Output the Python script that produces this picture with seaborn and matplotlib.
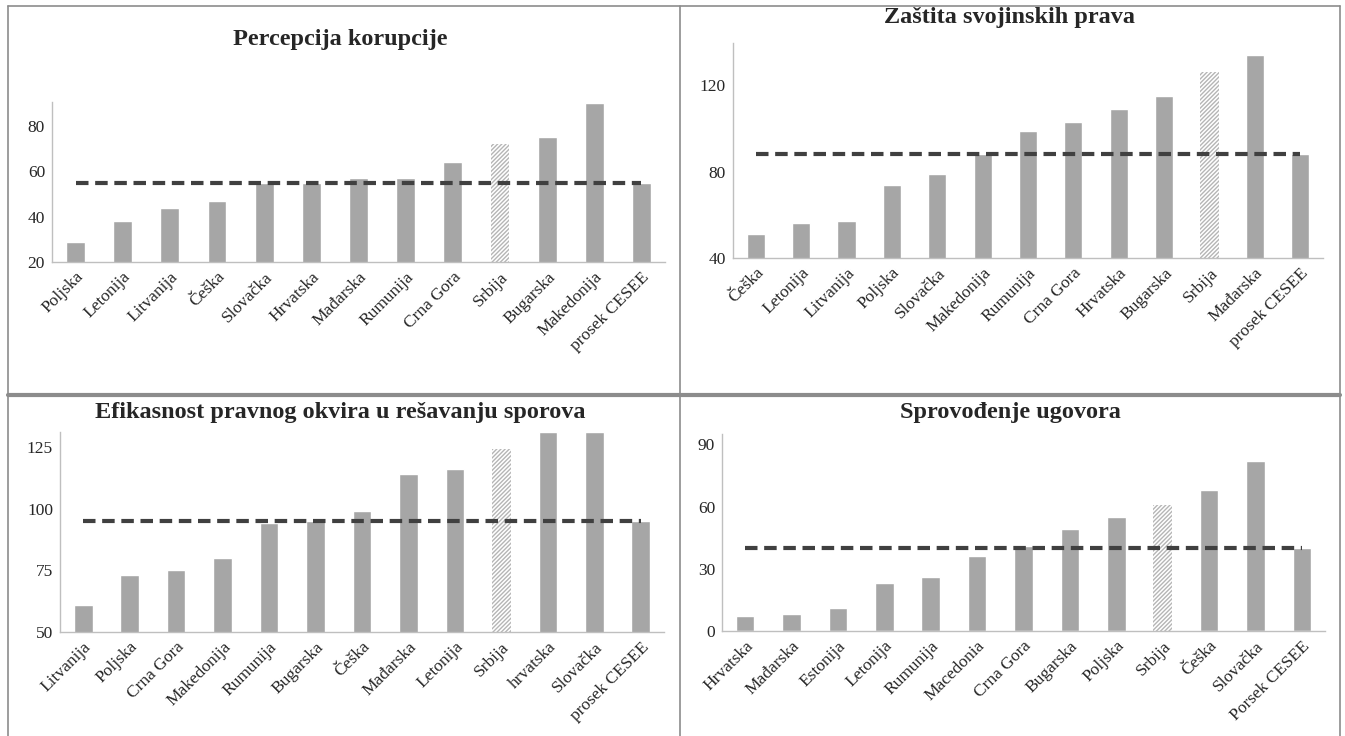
import numpy as np
import pandas as pd
import matplotlib
matplotlib.use("Agg")
import matplotlib.pyplot as plt
from matplotlib.lines import Line2D
import seaborn as sns

# -------------------------------------------------
# Podaci
# -------------------------------------------------
korupcija_zemlje = ["Poljska", "Letonija", "Litvanija", "Češka", "Slovačka", "Hrvatska",
                    "Mađarska", "Rumunija", "Crna Gora", "Srbija", "Bugarska",
                    "Makedonija", "prosek CESEE"]
korupcija_vrednosti = [29, 38, 44, 47, 55, 55, 57, 57, 64, 72, 75, 90, 55]

svojina_zemlje = ["Češka", "Letonija", "Litvanija", "Poljska", "Slovačka", "Makedonija",
                  "Rumunija", "Crna Gora", "Hrvatska", "Bugarska", "Srbija",
                  "Mađarska", "prosek CESEE"]
svojina_vrednosti = [51, 56, 57, 74, 79, 88, 99, 103, 109, 115, 126, 134, 88]

sporovi_zemlje = ["Litvanija", "Poljska", "Crna Gora", "Makedonija", "Rumunija", "Bugarska",
                  "Češka", "Mađarska", "Letonija", "Srbija", "hrvatska", "Slovačka",
                  "prosek CESEE"]
sporovi_vrednosti = [61, 73, 75, 80, 94, 95, 99, 114, 116, 124, 131, 131, 95]

ugovori_zemlje = ["Hrvatska", "Mađarska", "Estonija", "Letonija", "Rumunija", "Macedonia",
                  "Crna Gora", "Bugarska", "Poljska", "Srbija", "Češka", "Slovačka",
                  "Porsek CESEE"]
ugovori_vrednosti = [7, 8, 11, 23, 26, 36, 41, 49, 55, 61, 68, 82, 40]

naslovi = ["Percepcija korupcije", "Zaštita svojinskih prava",
           "Efikasnost pravnog okvira u rešavanju sporova", "Sprovođenje ugovora"]

SIVA = "#A6A6A6"
LINIJA = "#404040"

sns.set_style("white")
plt.rcParams["font.family"] = ["Liberation Serif", "DejaVu Serif"]

W, H = 1345, 736
fig = plt.figure(figsize=(W / 100, H / 100), dpi=100)


def px(left, top, right, bottom):
    return [left / W, 1 - bottom / H, (right - left) / W, (bottom - top) / H]


def panel(rect, zemlje, vrednosti, ylim, yticks):
    ax = fig.add_axes(rect)
    df = pd.DataFrame({"zemlja": zemlje, "vrednost": vrednosti})
    sns.barplot(data=df, x="zemlja", y="vrednost", color=SIVA, width=0.4,
                saturation=1, ax=ax)
    # Srbija sa šrafurom
    for patch, z in zip(ax.patches, zemlje):
        if z == "Srbija":
            patch.set_facecolor("white")
            patch.set_edgecolor("#B5B5B5")
            patch.set_hatch("////////")
            patch.set_linewidth(0)
    # prosek CESEE kao isprekidana linija
    prosek = vrednosti[-1]
    ax.plot(range(len(zemlje)), [prosek] * len(zemlje), color=LINIJA, lw=3,
            ls=(0, (3, 1.6)), zorder=5)
    ax.set_xlim(-0.5, len(zemlje) - 0.5)
    ax.set_ylim(*ylim)
    ax.set_yticks(yticks)
    ax.set_xlabel("")
    ax.set_ylabel("")
    ax.tick_params(axis="both", length=0, labelsize=12.5, pad=5)
    ax.set_xticks(range(len(zemlje)))
    ax.set_xticklabels(zemlje, rotation=45, ha="right", rotation_mode="anchor")
    for s in ["top", "right"]:
        ax.spines[s].set_visible(False)
    for s in ["left", "bottom"]:
        ax.spines[s].set_color("#BFBFBF")
        ax.spines[s].set_linewidth(1)
    return ax


panel(px(52, 102, 665, 262), korupcija_zemlje, korupcija_vrednosti, (20, 90.5), [20, 40, 60, 80])
panel(px(733, 43, 1323, 258), svojina_zemlje, svojina_vrednosti, (40, 139.5), [40, 80, 120])
panel(px(60, 432, 664, 632), sporovi_zemlje, sporovi_vrednosti, (50, 131), [50, 75, 100, 125])
panel(px(722, 434, 1325, 631), ugovori_zemlje, ugovori_vrednosti, (0, 95), [0, 30, 60, 90])

# naslovi
for (x, y), t in zip([(340, 40), (1010, 18), (340, 412), (1010, 412)], naslovi):
    fig.text(x / W, 1 - y / H, t, ha="center", va="center", fontsize=17.5,
             fontweight="bold")

# okviri panela
okvir = "#8C8C8C"
for x0, y0, x1, y1, lw in [(8, 6, 1340, 6, 1.2), (8, 6, 8, 736, 1.2),
                           (1340, 6, 1340, 736, 1.2), (680, 6, 680, 736, 1.2),
                           (8, 395, 1340, 395, 3)]:
    fig.add_artist(Line2D([x0 / W, x1 / W], [1 - y0 / H, 1 - y1 / H],
                          color=okvir, lw=lw))

fig.savefig("out.png", dpi=100)
